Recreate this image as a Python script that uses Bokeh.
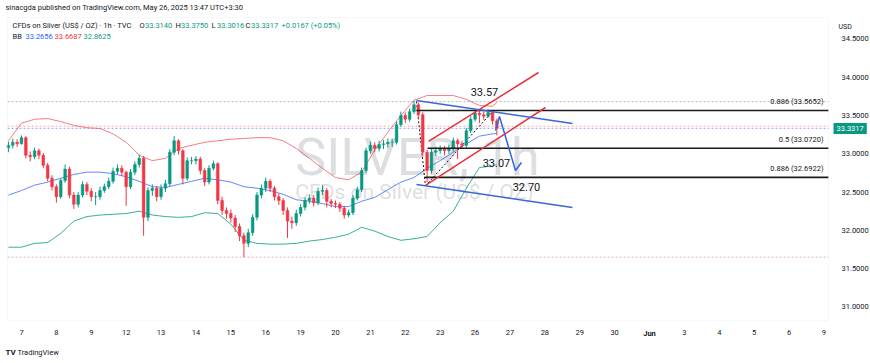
from bokeh.plotting import figure
from bokeh.models import (Range1d, FixedTicker, Label, ColumnDataSource, NumeralTickFormatter,
                          BoxAnnotation)
from bokeh.embed import file_html
from bokeh.resources import INLINE

# ---------------- data ----------------
day_labels = ["7", "8", "9", "12", "13", "14", "15", "16", "19", "20", "21", "22",
              "23", "26", "27", "28", "29", "30", "Jun", "3", "4", "5", "6", "9"]
month_label_index = 18

bar_start = -0.375      # first bar, in trading days from May 7
bar_step = 0.125        # 3-hour bars

first_open = 33.08
closes = [33.11, 33.15, 33.13, 33.21, 32.98, 32.96, 33.04, 32.98, 32.85, 32.68,
          32.57, 32.44, 32.65, 32.80, 32.46, 32.34, 32.46, 32.60, 32.51, 32.44,
          32.44, 32.52, 32.57, 32.64, 32.77, 32.81, 32.76, 32.57, 32.76, 32.86,
          32.94, 32.17, 32.52, 32.55, 32.44, 32.55, 32.61, 33.02, 33.17, 33.04,
          32.68, 32.91, 32.91, 32.93, 32.78, 32.63, 32.81, 32.87, 32.39, 32.26,
          32.22, 32.16, 32.05, 31.93, 31.83, 31.97, 32.17, 32.46, 32.55, 32.64,
          32.55, 32.44, 32.39, 32.26, 32.12, 32.10, 32.22, 32.30, 32.39, 32.42,
          32.36, 32.51, 32.52, 32.38, 32.35, 32.34, 32.29, 32.20, 32.23, 32.42,
          32.53, 32.78, 33.04, 33.11, 33.07, 33.12, 33.13, 33.15, 33.15, 33.38,
          33.50, 33.45, 33.55, 33.64, 33.51, 33.02, 32.78, 33.02, 33.04, 33.07,
          33.04, 33.07, 33.17, 33.13, 33.11, 33.30, 33.45, 33.53, 33.51, 33.49,
          33.54, 33.43, 33.3317]
highs = [33.16, 33.20, 33.19, 33.24, 33.23, 33.03, 33.08, 33.07, 33.01, 32.88,
         32.72, 32.60, 32.68, 32.86, 32.83, 32.50, 32.50, 32.64, 32.63, 32.55,
         32.50, 32.57, 32.61, 32.69, 32.82, 32.86, 32.85, 32.78, 32.80, 32.90,
         32.99, 32.97, 32.56, 32.60, 32.58, 32.60, 32.66, 33.06, 33.23, 33.19,
         33.06, 32.95, 32.96, 32.97, 32.96, 32.81, 32.85, 32.91, 32.89, 32.44,
         32.30, 32.27, 32.20, 32.09, 31.97, 32.02, 32.21, 32.50, 32.60, 32.69,
         32.67, 32.58, 32.48, 32.42, 32.30, 32.18, 32.27, 32.34, 32.43, 32.47,
         32.46, 32.56, 32.59, 32.55, 32.41, 32.39, 32.37, 32.32, 32.27, 32.46,
         32.57, 32.82, 33.08, 33.16, 33.15, 33.17, 33.18, 33.20, 33.19, 33.42,
         33.55, 33.54, 33.59, 33.69, 33.67, 33.54, 33.05, 33.07, 33.09, 33.11,
         33.10, 33.12, 33.21, 33.20, 33.17, 33.34, 33.49, 33.58, 33.57, 33.55,
         33.58, 33.56, 33.46]
lows = [33.02, 33.07, 33.09, 33.12, 32.94, 32.90, 32.93, 32.93, 32.81, 32.64,
        32.52, 32.36, 32.41, 32.62, 32.42, 32.28, 32.30, 32.43, 32.46, 32.38,
        32.33, 32.40, 32.49, 32.54, 32.61, 32.73, 32.71, 32.32, 32.54, 32.72,
        32.82, 31.93, 32.12, 32.45, 32.38, 32.40, 32.50, 32.58, 32.98, 32.99,
        32.60, 32.65, 32.86, 32.86, 32.73, 32.58, 32.60, 32.78, 32.34, 32.20,
        32.15, 32.10, 31.98, 31.86, 31.65, 31.78, 31.93, 32.13, 32.42, 32.50,
        32.50, 32.39, 32.33, 32.20, 31.90, 32.02, 32.06, 32.18, 32.26, 32.35,
        32.31, 32.33, 32.46, 32.30, 32.30, 32.29, 32.24, 32.15, 32.17, 32.20,
        32.39, 32.50, 32.75, 33.00, 33.02, 33.03, 33.06, 33.08, 33.09, 33.12,
        33.35, 33.40, 33.42, 33.52, 33.46, 32.96, 32.63, 32.74, 32.97, 33.00,
        32.98, 33.00, 33.03, 32.93, 33.06, 33.08, 33.27, 33.42, 33.40, 33.44,
        33.47, 33.38, 33.24]

bb_bar_index = list(range(0, 112, 3)) + [112]
bb_upper = [33.17, 33.40, 33.45, 33.46, 33.42, 33.37, 33.34, 33.33, 33.26, 33.15,
            32.98, 32.91, 32.94, 33.07, 33.11, 33.15, 33.17, 33.19, 33.20, 33.21,
            33.21, 33.17, 33.07, 32.94, 32.81, 32.69, 32.66, 32.76, 33.05, 33.28,
            33.50, 33.70, 33.76, 33.76, 33.76, 33.71, 33.63, 33.62, 33.6687]
bb_mid = [32.46, 32.52, 32.59, 32.63, 32.68, 32.73, 32.76, 32.76, 32.74, 32.70,
          32.64, 32.57, 32.56, 32.60, 32.64, 32.68, 32.66, 32.63, 32.57, 32.55,
          32.52, 32.47, 32.40, 32.38, 32.35, 32.31, 32.31, 32.38, 32.43, 32.53,
          32.63, 32.69, 32.81, 32.91, 33.02, 33.13, 33.23, 33.26, 33.2656]
bb_lower = [31.78, 31.78, 31.83, 31.84, 31.96, 32.12, 32.18, 32.20, 32.21, 32.22,
            32.25, 32.20, 32.18, 32.17, 32.18, 32.23, 32.22, 32.08, 31.87, 31.83,
            31.82, 31.82, 31.83, 31.86, 31.88, 31.91, 31.95, 32.04, 31.99, 31.92,
            31.87, 31.89, 31.92, 32.10, 32.25, 32.55, 32.82, 32.84, 32.8625]

price_ticks = [31.0, 31.5, 32.0, 32.5, 33.0, 33.5, 34.0, 34.5]
last_price = 33.3317
high_line = 33.68
low_line = 31.65
prev_line = 33.36

# drawings (time in trading days, price)
fib_levels = [33.5652, 33.0720, 32.6922]
fib_texts = ["0.886 (33.5652)", "0.5 (33.0720)", "0.886 (32.6922)"]
fib_start = [11.32, 11.64, 11.55]
red_up_t, red_up_p = [11.665, 14.818], [33.161, 34.061]
red_lo_t, red_lo_p = [11.579, 15.019], [32.586, 33.604]
blue_up_t, blue_up_p = [11.321, 15.792], [33.696, 33.394]
blue_lo_t, blue_lo_p = [11.321, 15.792], [32.599, 32.299]
arrow_t, arrow_p = [13.585, 13.700, 14.158, 14.330], [33.304, 33.487, 32.782, 32.886]
dash1_t, dash1_p = [11.321, 11.579], [33.683, 32.58]
dash2_t, dash2_p = [11.579, 13.528], [32.58, 33.564]
note_texts = ["33.57", "33.07", "32.70"]
note_t = [13.27, 13.614, 14.474]
note_p = [33.80, 32.885, 32.562]

# ---------------- layout ----------------
W, H = 870, 363
# chart pane in pixels and its time / price extent
FL, FT, FR, FB = 7, 17, 828, 320
PX0, PX1 = -0.401, 23.13
PY0, PY1 = 30.823, 34.779


def tx(px):
    return PX0 + (px - FL) * (PX1 - PX0) / (FR - FL)


def vy(py):
    return PY1 - (py - FT) * (PY1 - PY0) / (FB - FT)


UP, DOWN = "#089981", "#F23645"
TXT = "#131722"
FONT = "Roboto"

p = figure(width=W, height=H, output_backend="svg", toolbar_location=None,
           x_range=Range1d(tx(0), tx(W)), y_range=Range1d(vy(H), vy(0)),
           y_axis_location="right", min_border=0, margin=(0, 0, 0, 0))
p.title.visible = False
p.grid.visible = False
p.outline_line_color = None
p.background_fill_color = "white"
p.border_fill_color = "white"

# axes pinned to the pane edges
p.yaxis.fixed_location = tx(FR)
p.xaxis.fixed_location = vy(FB)
p.yaxis.ticker = FixedTicker(ticks=price_ticks)
p.yaxis.formatter = NumeralTickFormatter(format="0.0000")
p.xaxis.ticker = FixedTicker(ticks=list(range(len(day_labels))))
overrides = {i: s for i, s in enumerate(day_labels)}
overrides[month_label_index] = ""
p.xaxis.major_label_overrides = overrides
for ax in (p.xaxis[0], p.yaxis[0]):
    ax.axis_line_color = None
    ax.major_tick_line_color = None
    ax.minor_tick_line_color = None
    ax.major_label_text_font = FONT
    ax.major_label_text_font_size = "7.5px"
    ax.major_label_text_color = TXT
p.yaxis.major_label_standoff = 7
p.xaxis.major_label_standoff = 3

# pane border
p.add_layout(BoxAnnotation(left=tx(FL), right=tx(FR), bottom=vy(FB), top=vy(FT),
                           fill_alpha=0, line_color="#e0e3eb", line_width=1))

# watermark
p.add_layout(Label(x=tx(417), y=vy(157), text="SILVER, 1h", text_align="center",
                   text_baseline="middle", text_font=FONT, text_font_size="52px",
                   text_color="#787b86", text_alpha=0.25, level="underlay"))
p.add_layout(Label(x=tx(414), y=vy(191), text="CFDs on Silver (US$ / OZ)", text_align="center",
                   text_baseline="middle", text_font=FONT, text_font_size="21px",
                   text_color="#787b86", text_alpha=0.25, level="underlay"))

# price lines across the pane
for loc, col in ((high_line, "#b2b5be"), (prev_line, "#f7a5ad"), (last_price, "#8fa8f0"),
                 (low_line, "#d9b3b8")):
    p.segment(x0=[tx(FL)], y0=[loc], x1=[tx(FR)], y1=[loc], line_color=col,
              line_dash="2 2", line_width=1)

# Bollinger bands
bb_t = [bar_start + i * bar_step for i in bb_bar_index]
p.line(bb_t, bb_upper, line_color=DOWN, line_width=1, line_alpha=0.65)
p.line(bb_t, bb_mid, line_color="#2962FF", line_width=1, line_alpha=0.75)
p.line(bb_t, bb_lower, line_color=UP, line_width=1, line_alpha=0.8)

# dashed fib trend lines (under candles)
p.line(dash1_t, dash1_p, line_color=TXT, line_dash="2 2", line_width=1)
p.line(dash2_t, dash2_p, line_color=TXT, line_dash="2 2", line_width=1)

# candles
opens = [first_open] + closes[:-1]
t = [bar_start + i * bar_step for i in range(len(closes))]
up = [c >= o for o, c in zip(opens, closes)]


def subset(flag):
    idx = [i for i in range(len(t)) if up[i] == flag]
    return ColumnDataSource(dict(
        t=[t[i] for i in idx], o=[opens[i] for i in idx], c=[closes[i] for i in idx],
        h=[highs[i] for i in idx], l=[lows[i] for i in idx]))


for flag, col in ((True, UP), (False, DOWN)):
    src = subset(flag)
    p.segment("t", "h", "t", "l", source=src, line_color=col, line_width=1)
    p.vbar(x="t", top="o", bottom="c", width=bar_step * 0.62, source=src,
           fill_color=col, line_color=col, line_width=0.5)

# fib horizontal lines + labels
for lv, st, txt in zip(fib_levels, fib_start, fib_texts):
    p.segment(x0=[st], y0=[lv], x1=[tx(FR)], y1=[lv], line_color="#1b1b1b", line_width=1.6)
    p.add_layout(Label(x=tx(823), y=lv, y_offset=4, text=txt, text_align="right",
                       text_baseline="bottom", text_font=FONT, text_font_size="7.5px",
                       text_color=TXT))

# channel, trend lines and arrow
p.line(red_up_t, red_up_p, line_color="#e8303a", line_width=1.5)
p.line(red_lo_t, red_lo_p, line_color="#e8303a", line_width=1.5)
p.line(blue_up_t, blue_up_p, line_color="#3a66d6", line_width=1.5)
p.line(blue_lo_t, blue_lo_p, line_color="#3a66d6", line_width=1.5)
p.line(arrow_t, arrow_p, line_color="#2f66e0", line_width=1.5)

for s, xx, yy in zip(note_texts, note_t, note_p):
    p.add_layout(Label(x=xx, y=yy, text=s, text_align="center", text_baseline="middle",
                       text_font=FONT, text_font_size="11px", text_color=TXT))


# header & legend
def lab(px, py, s, col=TXT, size="7.5px", align="left", weight="normal", **kw):
    p.add_layout(Label(x=tx(px), y=vy(py), text=s, text_align=align, text_baseline="middle",
                       text_font=FONT, text_font_size=size, text_color=col,
                       text_font_style=weight, **kw))


lab(5, 7, "sinacgda published on TradingView.com, May 26, 2025 13:47 UTC+3:30", size="7.5px")
lab(12, 25, "CFDs on Silver (US$ / OZ) · 1h · TVC")
legend_vals = [("O", "33.3140", 139), ("H", "33.3750", 175), ("L", "33.3016", 211),
               ("C", "33.3317", 245)]
for k, v, x0 in legend_vals:
    lab(x0, 25, k)
    lab(x0 + 5.5, 25, v, col=UP)
lab(281, 25, "+0.0167 (+0.05%)", col=UP)
lab(12, 36, "BB")
lab(25, 36, "33.2656", col="#2962FF")
lab(54, 36, "33.6687", col=DOWN)
lab(83, 36, "32.8625", col=UP)

# month name on the time scale, in bold like the reference
p.add_layout(Label(x=month_label_index, y=vy(333), text=day_labels[month_label_index],
                   text_align="center", text_baseline="middle", text_font=FONT,
                   text_font_size="7.5px", text_font_style="bold", text_color=TXT))

# right scale extras
lab(838, 26, "USD", size="7px")
lab(833, 128, "33.3317", col="white", background_fill_color=UP, padding=3)

# footer logo
lab(5, 352, "TV", size="8px", weight="bold")
lab(17, 352, "TradingView", size="7.5px")

open("out.html", "w").write(file_html(p, INLINE))
